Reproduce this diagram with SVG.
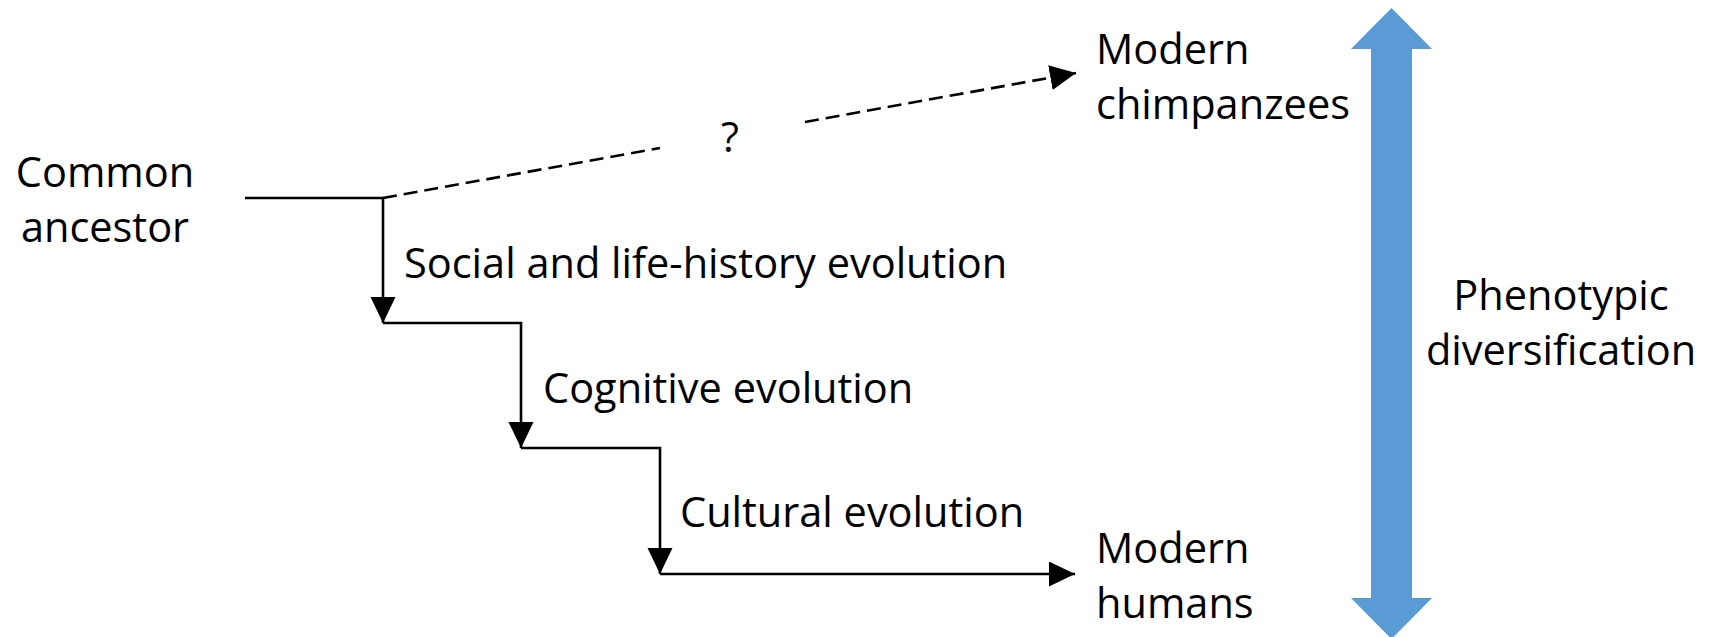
<svg xmlns="http://www.w3.org/2000/svg" width="1711" height="637" viewBox="0 0 1711 637">
<defs>
<style>
.t{font-family:"Open Sans","Noto Sans","Liberation Sans",sans-serif;font-size:41.5px;fill:#000}
.c{fill:none;stroke:#000;stroke-width:2.6}
.d{stroke-dasharray:14 7}
</style>
<marker id="ah" markerUnits="userSpaceOnUse" markerWidth="27" markerHeight="26" refX="26" refY="12.5" orient="auto">
<path d="M0,0 L26,12.5 L0,25 z" fill="#000"/>
</marker>
</defs>
<rect width="1711" height="637" fill="#fff"/>
<g id="connectors">
<path class="c" d="M245,198 H383 V323" marker-end="url(#ah)"/>
<path class="c" d="M383,323 H521 V448" marker-end="url(#ah)"/>
<path class="c" d="M521,448 H660 V574" marker-end="url(#ah)"/>
<path class="c" d="M660,574 H1075" marker-end="url(#ah)"/>
<path class="c d" d="M383,198 L660,148"/>
<path class="c d" d="M805,122 L1076,73" marker-end="url(#ah)"/>
</g>
<g id="common-ancestor">
<text class="t" x="105" y="187" text-anchor="middle">Common</text>
<text class="t" x="105" y="242" text-anchor="middle">ancestor</text>
</g>
<g id="label-social">
<text class="t" x="404" y="278">Social and life-history evolution</text>
</g>
<g id="label-cognitive">
<text class="t" x="543" y="403">Cognitive evolution</text>
</g>
<g id="label-cultural">
<text class="t" x="680" y="527">Cultural evolution</text>
</g>
<g id="label-question">
<text class="t" x="730" y="152" text-anchor="middle">?</text>
</g>
<g id="modern-chimpanzees">
<text class="t" x="1096" y="64">Modern</text>
<text class="t" x="1096" y="119">chimpanzees</text>
</g>
<g id="modern-humans">
<text class="t" x="1096" y="563">Modern</text>
<text class="t" x="1096" y="618">humans</text>
</g>
<g id="phenotypic-arrow">
<polygon points="1391.5,8 1432,49 1412,49 1412,598 1432,598 1391.5,639 1351,598 1371,598 1371,49 1351,49" fill="#5B9BD5"/>
</g>
<g id="phenotypic-label">
<text class="t" x="1561" y="310" text-anchor="middle">Phenotypic</text>
<text class="t" x="1561" y="365" text-anchor="middle">diversification</text>
</g>
</svg>
